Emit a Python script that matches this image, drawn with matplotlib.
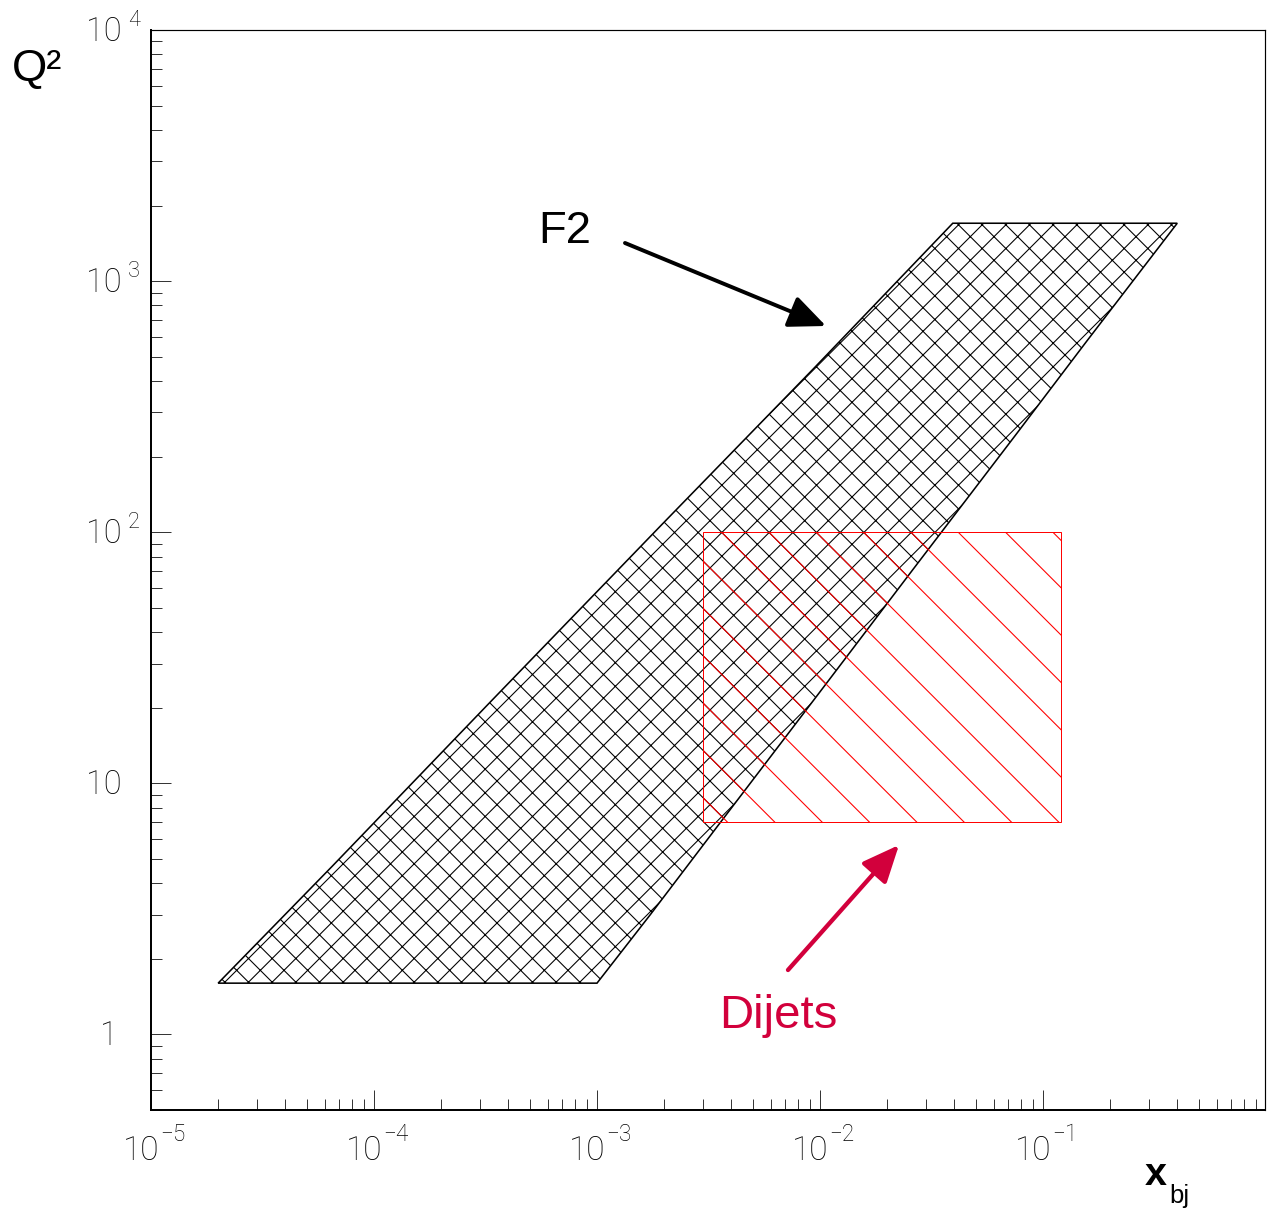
import numpy as np
import matplotlib
matplotlib.use('Agg')
import matplotlib.pyplot as plt
import matplotlib.transforms as mtransforms
from matplotlib.patches import Polygon, Rectangle
from matplotlib.ticker import LogLocator, NullFormatter

# ---------------- data ----------------
f2_left_x = [2.0e-5, 6.49e-5, 3.31e-4, 1.98e-3, 9.31e-3, 3.94e-2]
f2_left_q2 = [1.6, 4.67, 21.0, 108.6, 446, 1700]
f2_right_x = [0.40, 0.157, 0.0749, 0.0261, 9.69e-3, 3.45e-3, 1.73e-3, 1.0e-3]
f2_right_q2 = [1700, 576, 242, 71.0, 22.3, 6.70, 2.99, 1.6]
dijet_x = [0.003, 0.12]
dijet_q2 = [7, 100]

x_tick_exps = [-5, -4, -3, -2, -1]
y_tick_vals = [1, 10, 100, 1000, 10000]
y_tick_labels = [("1", ""), ("10", ""), ("10", "2"), ("10", "3"), ("10", "4")]

# ---------------- figure ----------------
W, H, DPI = 1271, 1211, 142
plt.rcParams['font.family'] = ['Liberation Sans', 'DejaVu Sans']
plt.rcParams['hatch.linewidth'] = 0.55

fig = plt.figure(figsize=(W / DPI, H / DPI), dpi=DPI)
ax = fig.add_axes([151 / W, 1 - 1110 / H, (1265 - 151) / W, (1110 - 30) / H])
ax.set_xscale('log')
ax.set_yscale('log')
ax.set_xlim(1e-5, 0.99)
ax.set_ylim(0.5, 1e4)

crimson = '#d2003c'

# F2 region
verts = list(zip(f2_left_x, f2_left_q2)) + list(zip(f2_right_x, f2_right_q2))
poly = Polygon(verts, closed=True, facecolor='none', edgecolor='black',
               linewidth=0.8, hatch='xx', zorder=2)
ax.add_patch(poly)

# Dijet region
rect = Rectangle((dijet_x[0], dijet_q2[0]), dijet_x[1] - dijet_x[0],
                 dijet_q2[1] - dijet_q2[0], facecolor='none', edgecolor='red',
                 linewidth=0.5, hatch='\\', zorder=3)
ax.add_patch(rect)

# ticks
ax.xaxis.set_major_locator(LogLocator(base=10, numticks=20))
ax.xaxis.set_minor_locator(LogLocator(base=10, subs=np.arange(2, 10), numticks=20))
ax.yaxis.set_major_locator(LogLocator(base=10, numticks=20))
ax.yaxis.set_minor_locator(LogLocator(base=10, subs=np.arange(2, 10), numticks=20))
ax.xaxis.set_minor_formatter(NullFormatter())
ax.yaxis.set_minor_formatter(NullFormatter())
ax.tick_params(which='both', direction='in', top=False, right=False,
               labelbottom=False, labelleft=False, width=0.5, color='#333333')
ax.tick_params(which='major', length=10)
ax.tick_params(which='minor', length=5.5)
for s in ['left', 'bottom']:
    ax.spines[s].set_linewidth(1.0)
for s in ['top', 'right']:
    ax.spines[s].set_linewidth(0.6)

# manual tick labels (ROOT style)
tick_font = dict(family=['Roboto', 'Liberation Sans'], fontweight='light', color='black')

def xoff(dx):
    return (mtransforms.blended_transform_factory(ax.transData, fig.transFigure)
            + mtransforms.ScaledTranslation(dx / DPI, 0, fig.dpi_scale_trans))

def yoff(dy):
    return (mtransforms.blended_transform_factory(fig.transFigure, ax.transData)
            + mtransforms.ScaledTranslation(0, -dy / DPI, fig.dpi_scale_trans))

for e in x_tick_exps:
    v = 10.0 ** e
    ax.text(v, 1 - 1160 / H, "10", transform=xoff(8), ha='right', va='baseline',
            fontsize=17, clip_on=False, **tick_font)
    ax.text(v, 1 - 1141 / H, "\u2212" + str(-e), transform=xoff(9), ha='left',
            va='baseline', fontsize=11.5, clip_on=False, **tick_font)

for v, (base, ex) in zip(y_tick_vals, y_tick_labels):
    rx = 122 if base == "10" else 118
    ax.text(rx / W, v, base, transform=yoff(11), ha='right', va='baseline',
            fontsize=16.5, clip_on=False, **tick_font)
    if ex:
        ax.text(128 / W, v, ex, transform=yoff(-4), ha='left', va='baseline',
                fontsize=11, clip_on=False, **tick_font)

# axis titles
fig.text(12 / W, 1 - 81 / H, "Q\u00b2", fontsize=23, ha='left', va='baseline')
fig.text(1145 / W, 1 - 1185 / H, "x", fontsize=20, fontweight='bold',
         ha='left', va='baseline')
fig.text(1169 / W, 1 - 1203 / H, "bj", fontsize=13, ha='left', va='baseline')

# annotations
fig.text(538 / W, 1 - 243 / H, "F2", fontsize=23, ha='left', va='baseline')
fig.text(719 / W, 1 - 1028 / H, "Dijets", fontsize=24, color=crimson,
         ha='left', va='baseline')

ax.annotate('', xy=(826, H - 326), xytext=(625, H - 243),
            xycoords='figure pixels', textcoords='figure pixels',
            arrowprops=dict(arrowstyle='-|>,head_length=0.8,head_width=0.35',
                            mutation_scale=20, lw=2.0, color='black',
                            shrinkA=0, shrinkB=0))
ax.annotate('', xy=(899, H - 845), xytext=(788, H - 970),
            xycoords='figure pixels', textcoords='figure pixels',
            arrowprops=dict(arrowstyle='-|>,head_length=0.8,head_width=0.35',
                            mutation_scale=20, lw=2.2, color=crimson,
                            shrinkA=0, shrinkB=0))

fig.savefig('out.png', dpi=DPI)
